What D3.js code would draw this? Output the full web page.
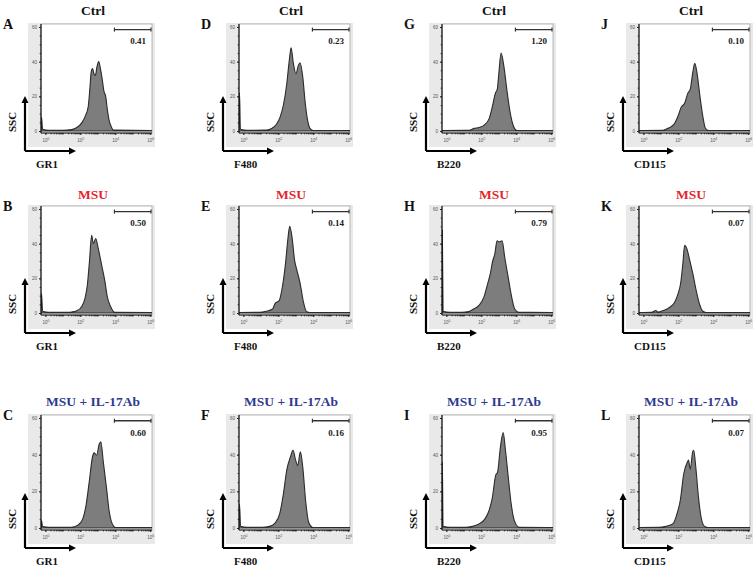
<!DOCTYPE html>
<html><head><meta charset="utf-8">
<script src="https://cdn.jsdelivr.net/npm/d3@7"></script>
<style>html,body{margin:0;padding:0;background:#fff;}svg{display:block;}</style>
</head><body>
<svg id="chart" width="756" height="569"></svg>
<script>
// ---- data ----
const conditions = ["Ctrl", "MSU", "MSU + IL-17Ab"];
const markers = ["GR1", "F480", "B220", "CD115"];
const panelLetters = [["A","D","G","J"],["B","E","H","K"],["C","F","I","L"]];
const gateValues = [["0.41","0.23","1.20","0.10"],["0.50","0.14","0.79","0.07"],["0.60","0.16","0.95","0.07"]];
const xTickExponents = [0, 2, 4, 6];
const yTickValues = [0, 20, 40, 60];
// histograms: [log10 intensity, count]
const histA = [[-0.25,0],[-0.22,8],[-0.16,1],[0.2,0.4],[1.0,0.4],[1.5,0.8],[1.8,2],[2.1,5],[2.3,9],[2.45,14],[2.55,25],[2.62,34],[2.7,36],[2.78,33],[2.86,32],[2.95,37],[3.05,40],[3.15,36],[3.25,30],[3.35,23],[3.45,20],[3.55,12],[3.65,6],[3.75,3],[3.9,0.5],[6.1,0.3]];
const histD = [[-0.25,0],[-0.22,22],[-0.17,1],[0.2,0.4],[1.33,0.5],[1.62,1.4],[1.9,4],[2.1,8],[2.29,15],[2.48,27],[2.63,41],[2.73,48],[2.86,39],[3.01,33],[3.15,38],[3.24,39.4],[3.4,31],[3.53,17],[3.66,7],[3.82,1.4],[4.0,0.3],[6.1,0.3]];
const histG = [[-0.25,0.3],[1.31,0.4],[1.59,1.5],[1.87,2],[2.16,3.4],[2.44,7],[2.63,14],[2.81,22],[2.91,24],[3.0,33],[3.13,45],[3.28,38],[3.47,23],[3.66,10],[3.85,2.5],[4.04,0.3],[6.1,0.3]];
const histJ = [[-0.25,0.3],[1.13,0.4],[1.32,1.2],[1.6,2.5],[1.79,4.5],[1.98,8.5],[2.17,13.8],[2.36,16],[2.55,22],[2.68,24],[2.83,34],[2.94,39],[3.06,34],[3.25,19],[3.4,8.5],[3.55,1.6],[3.74,0.3],[6.1,0.3]];
const histB = [[-0.25,0],[-0.22,11.4],[-0.16,1],[0.2,0.4],[1.23,0.4],[1.52,0.6],[1.8,1.3],[2.08,3.8],[2.27,8.6],[2.4,16],[2.52,29.5],[2.65,44.8],[2.74,40],[2.88,43],[3.03,37],[3.22,27.6],[3.41,18],[3.54,9.5],[3.73,3.8],[3.98,0.4],[6.1,0.3]];
const histE = [[-0.25,0.3],[0.92,0.4],[1.3,1],[1.67,2.3],[1.82,5.6],[2.04,7],[2.23,15],[2.41,28.5],[2.56,44],[2.65,50],[2.78,44],[2.93,30.5],[3.06,24.7],[3.25,17],[3.44,6.2],[3.62,0.8],[3.81,0.3],[6.1,0.3]];
const histH = [[-0.25,0],[-0.23,48],[-0.19,1],[0.2,0.4],[0.9,0.4],[1.28,0.8],[1.56,2.3],[1.85,4.2],[2.14,9],[2.33,15.7],[2.52,23],[2.65,30],[2.77,34],[2.9,41.7],[3.03,41],[3.19,41.7],[3.34,32],[3.53,21],[3.72,10],[3.91,2.3],[4.14,0.4],[6.1,0.3]];
const histK = [[-0.25,0.3],[0.47,0.4],[0.71,1.4],[0.85,0.5],[1.13,1.4],[1.51,3.3],[1.79,6.2],[1.98,11],[2.13,17],[2.26,28.5],[2.36,39],[2.49,37],[2.64,31],[2.83,22.7],[3.02,13],[3.21,5.2],[3.4,1],[3.59,0.3],[6.1,0.3]];
const histC = [[-0.25,0],[-0.22,4],[-0.16,0.8],[0.2,0.4],[1.49,0.4],[1.86,1.5],[2.14,5],[2.33,12.5],[2.52,26],[2.7,39],[2.79,41],[2.93,39.7],[3.08,45.7],[3.17,47],[3.32,35.6],[3.51,20.8],[3.64,9.8],[3.82,2.4],[4.01,0.3],[6.1,0.3]];
const histF = [[-0.25,0],[-0.22,13],[-0.16,1],[0.2,0.4],[1.09,0.4],[1.5,0.9],[1.81,2.7],[2.08,7.8],[2.29,18.7],[2.49,32],[2.7,39],[2.84,42.4],[2.99,37],[3.11,34],[3.26,41.5],[3.4,33],[3.56,15],[3.73,3.3],[3.98,0.3],[6.1,0.3]];
const histI = [[-0.25,0],[-0.23,36],[-0.19,1],[0.2,0.4],[1.08,0.4],[1.49,0.9],[1.9,2.4],[2.21,5],[2.41,8.7],[2.62,16],[2.82,28.7],[2.93,30.5],[3.09,44],[3.25,52],[3.38,42.4],[3.54,27.8],[3.71,13],[3.89,4],[4.16,0.4],[6.1,0.3]];
const histL = [[-0.25,0.3],[0.88,0.4],[1.29,0.9],[1.7,2.4],[1.9,7],[2.11,15],[2.31,29.6],[2.52,36],[2.58,37],[2.68,32],[2.82,41.5],[2.88,42.4],[3.0,33],[3.15,17],[3.3,6],[3.5,0.9],[3.71,0.3],[6.1,0.3]];
const histograms = [[histA,histD,histG,histJ],[histB,histE,histH,histK],[histC,histF,histI,histL]];
const gateStart = 3.95, gateLevel = 58.5, gateLabelLevel = 50;

// ---- layout ----
const colLeft = [41, 239, 442, 639];
const frameW = 111;
const rowTop = [24, 206, 415];
const rowZero = [131, 313, 528];
const titleBase = [15, 199, 406];
const titleColors = ["#111111", "#e3262b", "#2e3a8f"];
const serif = "'Liberation Serif','Times New Roman',serif";

const svg = d3.select("#chart");
const defs = svg.append("defs");

histograms.forEach((row, r) => {
  row.forEach((hist, c) => {
    const left = colLeft[c], top = rowTop[r], zero = rowZero[r];
    const bottom = zero + 2;
    const x = d3.scaleLog().domain([Math.pow(10,-0.25), Math.pow(10,6.1)]).range([left, left + frameW]);
    const y = d3.scaleLinear().domain([0, 60]).range([zero, top + 3]);
    const g = svg.append("g");

    // background
    g.append("rect").attr("x", left - 13).attr("y", top - 1).attr("width", frameW + 16).attr("height", bottom - top + 15).attr("fill", "#e9e9e9");
    g.append("rect").attr("x", left).attr("y", top).attr("width", frameW).attr("height", bottom - top).attr("fill", "#fff").attr("stroke", "#9a9a9a").attr("stroke-width", 0.7);

    // clip
    const cid = "clip" + r + c;
    defs.append("clipPath").attr("id", cid).append("rect").attr("x", left).attr("y", top).attr("width", frameW).attr("height", bottom - top);

    // histogram
    const area = d3.area().x(d => x(Math.pow(10, d[0]))).y0(y(0)).y1(d => y(d[1])).curve(d3.curveMonotoneX);
    g.append("path").datum(hist).attr("d", area).attr("clip-path", `url(#${cid})`)
      .attr("fill", "#7d7d7d").attr("stroke", "#2b2b2b").attr("stroke-width", 1.1).attr("stroke-linejoin", "round");

    // y axis
    const ya = g.append("g").attr("transform", `translate(${left},0)`)
      .call(d3.axisLeft(y).tickValues(yTickValues).tickSize(2).tickPadding(2));
    ya.select(".domain").attr("stroke", "#111").attr("stroke-width", 1.2).attr("d", `M0,${top}V${bottom}`);
    ya.selectAll("text").attr("font-size", 4.5).attr("fill", "#555").attr("font-family", "Arial,sans-serif");
    g.append("g").attr("transform", `translate(${left},0)`)
      .call(d3.axisLeft(y).tickValues(d3.range(0, 61, 5)).tickSize(1.3).tickFormat(""))
      .call(s => s.select(".domain").remove());

    // x axis
    const xa = g.append("g").attr("transform", `translate(0,${bottom})`)
      .call(d3.axisBottom(x).tickValues(xTickExponents.map(e => Math.pow(10, e))).tickSize(2).tickPadding(3).tickFormat(""));
    xa.select(".domain").attr("stroke", "#111").attr("stroke-width", 1.2).attr("d", `M${left},0H${left + frameW}`);
    xa.selectAll(".tick").each(function(d) {
      const t = d3.select(this).append("text").attr("y", 9).attr("fill", "#555").attr("font-size", 4.5)
        .attr("font-family", "Arial,sans-serif").attr("text-anchor", "middle");
      t.append("tspan").text("10");
      t.append("tspan").attr("dy", -2).attr("font-size", 3.5).text(String(Math.round(Math.log10(d))));
    });
    g.append("g").attr("transform", `translate(0,${bottom})`)
      .call(d3.axisBottom(x).tickValues(x.ticks().filter(v => v >= 1)).tickSize(1.3).tickFormat(""))
      .call(s => s.select(".domain").remove());
    g.selectAll(".tick line").attr("stroke", "#222");

    // gate
    const gx1 = x(Math.pow(10, gateStart)), gx2 = left + frameW - 1, gy = y(gateLevel);
    g.append("line").attr("x1", gx1).attr("x2", gx2).attr("y1", gy).attr("y2", gy).attr("stroke", "#333").attr("stroke-width", 1.4);
    [gx1, gx2].forEach(px => g.append("line").attr("x1", px).attr("x2", px).attr("y1", gy - 2).attr("y2", gy + 2).attr("stroke", "#333").attr("stroke-width", 1.2));
    g.append("text").attr("x", left + frameW - 6).attr("y", y(gateLabelLevel)).attr("text-anchor", "end")
      .attr("font-family", serif).attr("font-weight", "bold").attr("font-size", 9).attr("fill", "#222").text(gateValues[r][c]);

    // arrows
    const ax = left - 16, ay = zero + 20;
    g.append("path").attr("d", `M${ax},${ay}V${zero - 29}M${ax},${ay}H${left + 29}`).attr("stroke", "#000").attr("stroke-width", 2.2).attr("fill", "none");
    g.append("path").attr("d", `M${ax - 3.5},${zero - 28}L${ax},${zero - 35}L${ax + 3.5},${zero - 28}Z`).attr("fill", "#000");
    g.append("path").attr("d", `M${left + 28},${ay - 3.5}L${left + 35},${ay}L${left + 28},${ay + 3.5}Z`).attr("fill", "#000");

    // labels
    g.append("text").attr("transform", `translate(${left - 25},${zero - 9}) rotate(-90)`).attr("text-anchor", "middle")
      .attr("font-family", serif).attr("font-weight", "bold").attr("font-size", 11).attr("fill", "#111").text("SSC");
    g.append("text").attr("x", left - 5).attr("y", zero + 37).attr("font-family", serif).attr("font-weight", "bold")
      .attr("font-size", 11).attr("fill", "#111").text(markers[c]);
    g.append("text").attr("x", left - 38).attr("y", top + 5).attr("font-family", serif).attr("font-weight", "bold")
      .attr("font-size", 14).attr("fill", "#111").text(panelLetters[r][c]);
    g.append("text").attr("x", left + 52).attr("y", titleBase[r]).attr("text-anchor", "middle").attr("font-family", serif)
      .attr("font-weight", "bold").attr("font-size", 13.5).attr("fill", titleColors[r]).text(conditions[r]);
  });
});
</script>
</body></html>
